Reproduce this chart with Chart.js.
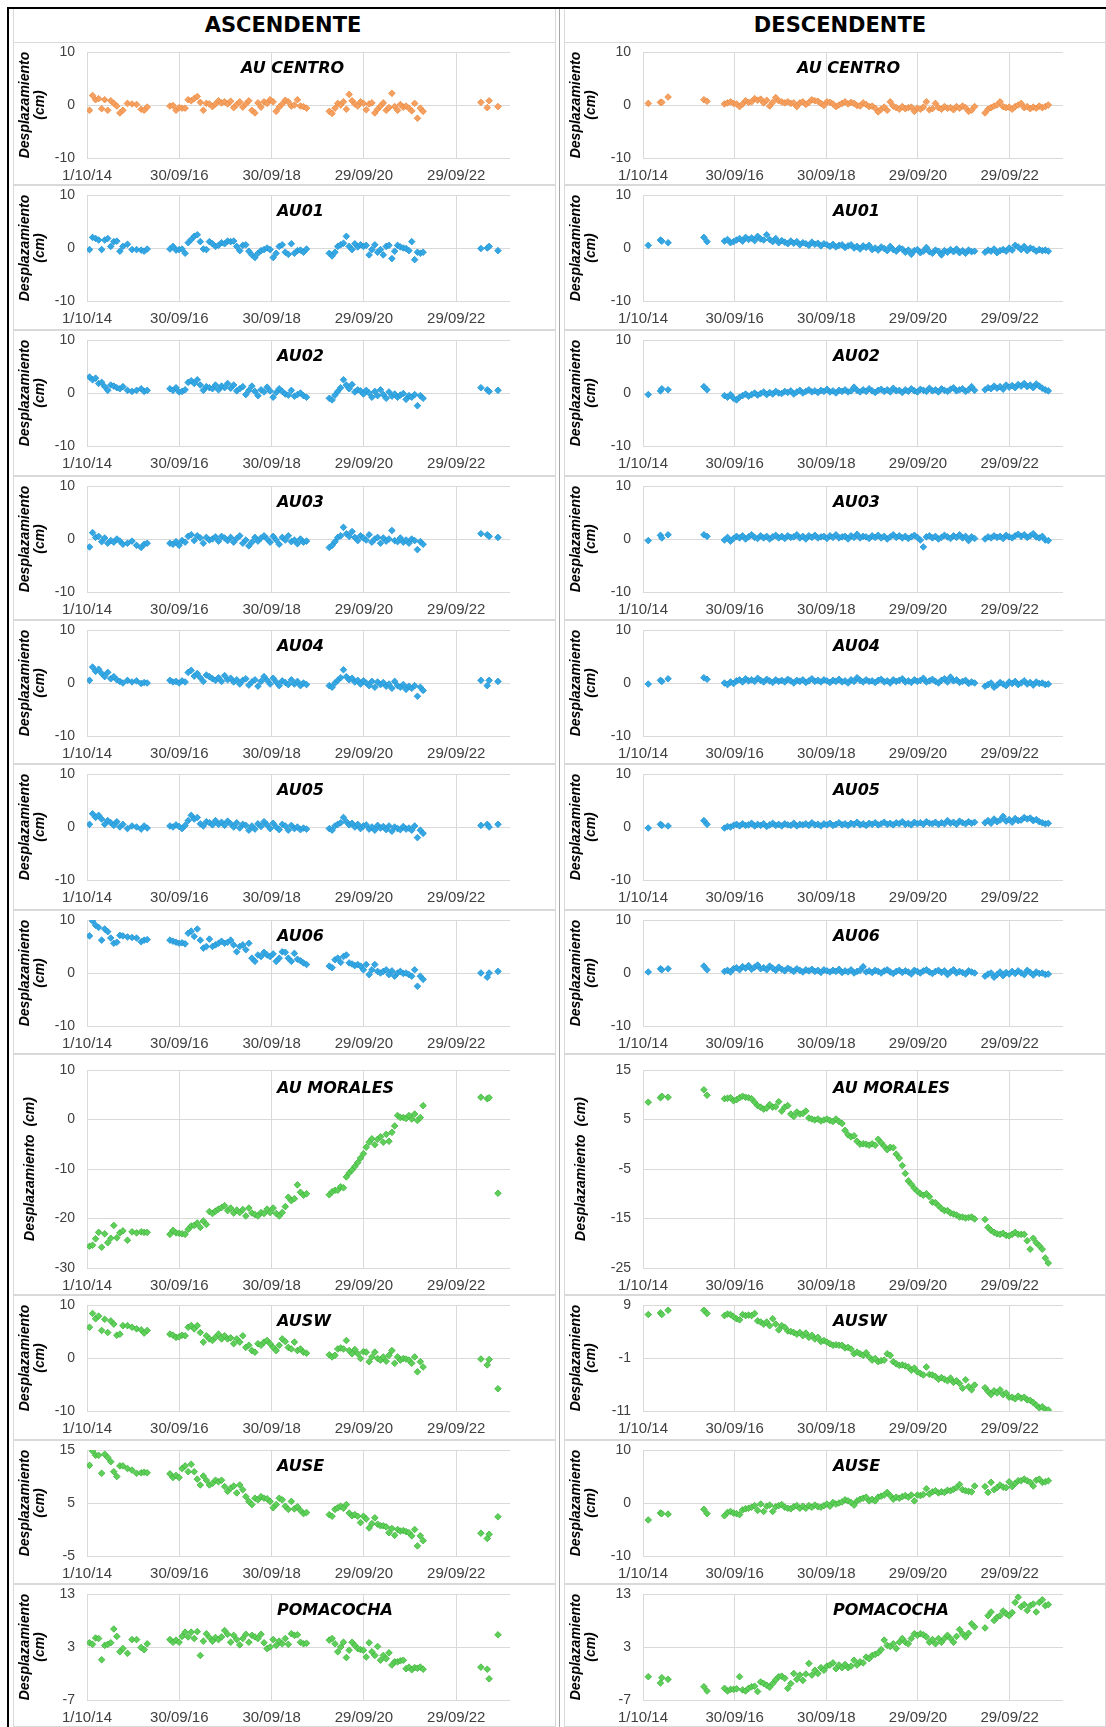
<!DOCTYPE html>
<html><head><meta charset="utf-8">
<script src="https://cdn.jsdelivr.net/npm/chart.js@4.4.1/dist/chart.umd.min.js"></script>
<style>
html,body{margin:0;padding:0;background:#fff}
body{position:relative;width:1106px;height:1727px;overflow:hidden}
.hdr{position:absolute;top:7px;height:35px;line-height:36px;text-align:center;font-family:'DejaVu Sans';font-weight:bold;font-size:21px;color:#000}
.cell{position:absolute;box-sizing:border-box;border:1px solid #d9d9d9}
.ln{position:absolute;background:#000}
canvas{position:absolute}
</style></head><body>
<div class="ln" style="left:7px;top:7px;width:1099px;height:2px"></div>
<div class="ln" style="left:7px;top:7px;width:2px;height:1720px"></div>
<div class="cell" style="left:13px;top:9px;width:543px;height:34px;border-top:none"></div>
<div class="cell" style="left:564px;top:9px;width:542px;height:34px;border-top:none"></div>
<div class="hdr" style="left:133px;width:300px">ASCENDENTE</div>
<div class="hdr" style="left:690px;width:300px">DESCENDENTE</div>
<div style="position:absolute;left:559px;top:9px;width:1px;height:1718px;background:#a6a6a6"></div>
<script>
// ---- x axis: days since 1/10/14 ----
const X_TICK_STEP = 730;
const X_MAX = 3345;
const X_TICK_LABELS = ['1/10/14','30/09/16','30/09/18','29/09/20','29/09/22'];
const Y_STEP = 10;

// acquisition dates (days since 1/10/14)
const ASC_DATES = [
 20,44,68,92,116,140,164,188,212,236,260,284,320,356,392,428,452,476,
 656,680,704,728,752,776,800,824,848,872,
 896,920,944,968,992,1016,1040,1064,1088,1112,
 1136,1160,1184,1208,1232,1256,1280,1304,1328,1352,
 1376,1400,1424,1448,1472,1496,1520,1544,1568,1592,
 1616,1640,1664,1688,1712,1736,
 1916,1938,1961,1983,2006,2028,2051,2073,2096,2118,
 2141,2163,2186,2208,2231,2253,2276,2298,2321,2343,
 2366,2388,2411,2433,2456,2478,2501,2523,2546,2568,
 2591,2613,2636,2658,
 3115,3165,3180,3250
];
const DESC_DATES = [
 42,139,150,200,485,510,
 649,673,697,721,745,769,793,817,841,865,
 889,913,937,961,985,1009,1033,1057,1081,1105,
 1129,1153,1177,1201,1225,1249,1273,1297,1321,1345,
 1369,1393,1417,1441,1465,1489,1513,1537,1561,1585,
 1609,1633,1657,1681,1705,1729,1753,1777,1801,1825,
 1849,1873,1897,1921,1945,1969,1993,2017,2041,2065,
 2089,2113,2137,2161,2185,2209,2233,2257,2281,2305,
 2329,2353,2377,2401,2425,2449,2473,2497,2521,2545,
 2569,2593,2617,2641,
 2724,2748,2772,2796,2820,2844,2868,2892,2916,2940,
 2964,2988,3012,3036,3060,3084,3108,3132,3156,3180,
 3204,3228
];

// ---- ASCENDENTE series (cm) ----
const ascAUCentro = [
 -1.0,1.8,1.0,1.2,-0.7,1.0,-1.0,0.8,0.3,-0.2,-1.5,-1.0,0.3,0.2,0.1,-0.8,-1.0,-0.4,
 -0.2,-0.1,-1.0,-0.5,-0.6,-0.6,1.0,0.8,1.2,1.6,
 0.5,-1.0,0.3,0.2,-0.3,0.2,0.8,0.4,0.6,0.2,
 0.7,-0.5,0.1,0.6,-0.4,0.2,0.8,-1.0,-1.5,0.4,
 -0.4,0.6,0.3,1.0,0.6,-1.2,-0.4,0.2,0.9,0.6,
 -0.2,0.0,1.0,-0.2,-0.3,-0.6,
 -1.2,-1.6,-0.6,0.3,0.0,0.6,-0.8,2.0,0.8,0.2,
 -0.2,0.6,0.3,-0.9,0.2,0.4,-1.5,-0.8,-0.2,0.4,
 -1.0,-0.5,2.2,-0.3,-1.0,0.1,-0.4,-0.2,-0.6,-1.1,
 0.3,-2.5,-0.6,-1.2,
 0.5,-0.5,0.8,-0.3
];
const ascAU01 = [
 -0.3,2.0,1.8,1.5,-0.3,1.5,1.8,0.3,1.2,1.3,-0.6,0.3,0.7,-0.3,-0.3,-0.4,-0.6,-0.2,
 -0.2,0.3,-0.4,-0.3,-0.2,-1.0,1.0,1.6,2.2,2.5,
 1.2,-0.2,-0.3,1.2,0.8,0.3,0.5,1.0,0.8,1.3,
 1.2,1.3,0.3,-0.5,0.5,0.6,-0.6,-1.3,-1.8,-1.0,
 -0.5,-0.3,0.0,-0.3,-1.8,-1.0,0.3,0.6,-0.8,-1.2,
 0.8,-1.0,-0.5,-0.4,-0.8,-0.2,
 -1.0,-1.5,-0.8,0.3,0.6,0.9,2.2,0.3,-0.3,0.8,
 0.2,0.6,0.3,0.5,-1.3,-0.3,0.6,-0.8,-0.3,-1.3,
 0.3,0.5,-2.0,-0.6,0.5,0.2,0.0,-0.1,-0.5,1.2,
 -2.2,-0.8,-1.0,-0.8,
 -0.1,0.0,0.3,-0.5
];
const ascAU02 = [
 3.0,2.5,2.8,1.8,2.0,1.2,0.5,1.5,1.3,1.0,0.8,1.2,0.5,0.3,0.5,0.8,0.3,0.5,
 0.8,0.5,1.0,0.2,0.3,0.6,2.0,2.3,1.8,2.5,
 1.5,0.5,1.2,1.0,0.8,1.5,0.6,1.3,1.0,1.8,
 0.9,1.5,0.4,0.8,1.2,-0.3,0.5,1.3,0.3,-0.5,
 0.6,0.2,1.1,0.4,-0.8,0.1,0.8,0.3,-0.2,-0.4,
 0.5,-0.6,-0.3,0.0,-0.5,-0.8,
 -1.0,-1.3,-0.4,0.3,1.0,2.5,1.5,0.8,1.6,0.2,
 0.6,0.4,-0.2,0.5,0.0,-0.8,0.3,-0.5,0.6,-0.3,
 -1.0,0.2,-0.6,-0.2,-0.8,-0.4,-0.1,-1.2,-0.5,-0.8,
 -0.3,-2.4,-0.5,-1.0,
 1.0,0.6,0.3,0.5
];
const ascAU03 = [
 -1.5,1.2,0.3,0.5,-0.5,0.2,-0.8,-0.3,-0.6,0.0,-0.4,-1.0,-0.8,-0.4,-1.2,-1.6,-1.0,-0.8,
 -0.8,-1.0,-0.5,-1.2,-0.3,-0.6,0.5,0.8,-0.3,0.6,
 0.2,-0.8,0.3,-0.2,0.0,0.4,-0.4,0.5,0.2,-0.3,
 0.3,-0.6,0.1,0.6,-0.8,-0.2,-1.3,-0.6,0.3,-0.4,
 0.2,0.6,0.0,-0.6,0.5,-0.2,-1.0,0.3,-0.2,0.6,
 -0.5,-0.2,-0.9,0.0,-0.6,-0.4,
 -1.6,-1.2,-0.5,0.3,0.6,2.2,1.0,0.5,1.4,0.3,
 -0.3,0.6,0.2,-0.2,0.8,-0.6,0.0,0.3,-0.8,0.2,
 -0.4,0.0,1.6,-0.3,-0.5,0.2,-0.6,-0.2,-0.8,0.0,
 -0.3,-2.0,-0.5,-1.0,
 1.0,0.8,0.5,0.3
];
const ascAU04 = [
 0.5,3.0,2.2,2.6,1.8,1.2,2.0,0.8,1.2,0.6,0.3,0.0,0.5,0.2,0.4,-0.1,0.1,0.0,
 0.5,0.2,0.3,0.0,0.4,0.2,2.0,2.4,1.3,1.8,
 1.0,0.3,1.5,1.2,0.8,0.5,1.0,0.3,1.4,0.6,
 0.9,0.2,0.6,-0.2,0.5,0.8,-0.4,0.2,0.6,-0.6,
 0.3,1.2,0.5,-0.2,0.9,0.2,-0.5,0.4,0.1,-0.3,
 0.6,-0.2,0.3,-0.5,0.0,-0.3,
 -0.5,-0.8,0.0,0.5,1.0,2.5,1.2,0.6,0.9,0.2,
 0.5,-0.2,0.4,0.0,-0.5,0.3,-0.8,0.2,-0.3,0.1,
 -0.6,-0.2,-1.0,0.3,-0.5,-0.8,-0.3,-1.2,-0.6,-1.0,
 -0.5,-2.5,-0.8,-1.4,
 0.5,-0.5,0.5,0.3
];
const ascAU05 = [
 0.5,2.5,1.8,2.2,1.5,0.5,1.2,0.8,0.3,1.0,0.0,0.5,-0.3,0.2,0.0,-0.4,0.2,-0.2,
 0.2,0.0,0.4,0.1,-0.3,0.3,1.2,2.2,1.5,1.8,
 0.6,0.2,1.0,0.8,0.4,1.2,0.5,0.9,0.3,1.1,
 0.6,0.0,0.8,-0.2,0.5,0.3,-0.6,0.2,-0.4,0.6,
 0.1,1.0,0.4,-0.3,0.7,0.0,-0.5,0.5,0.2,-0.6,
 0.3,-0.3,0.0,-0.5,-0.2,-0.4,
 -0.3,-0.6,0.2,0.5,0.8,1.8,1.0,0.4,0.7,0.0,
 0.5,-0.3,0.2,0.4,-0.4,0.0,-0.6,0.3,-0.2,0.1,
 -0.5,0.2,-0.8,0.0,-0.3,-0.5,0.1,-0.4,-0.2,-0.6,
 0.2,-2.0,-0.6,-1.2,
 0.3,0.5,0.0,0.5
];
const ascAU06 = [
 7.0,9.8,9.0,8.6,6.2,8.3,7.8,6.6,5.6,5.8,7.1,7.0,6.8,6.7,6.6,5.9,6.2,6.3,
 6.2,6.0,5.8,5.6,5.7,5.5,7.5,7.9,6.9,8.3,
 6.2,4.7,5.0,6.4,5.0,5.3,5.6,6.0,5.6,5.8,
 6.2,5.3,4.0,5.0,5.3,4.4,5.6,2.8,2.2,3.4,
 3.1,3.9,3.4,3.1,3.6,2.2,2.8,4.0,3.9,2.8,
 2.2,3.7,2.6,2.3,1.9,1.6,
 1.3,1.0,2.5,2.8,2.0,3.1,3.4,1.9,1.7,1.4,
 1.6,1.3,0.6,1.6,-0.3,0.6,1.6,0.3,0.0,0.3,
 0.6,-0.3,0.4,-0.6,0.0,0.3,-0.1,0.0,-0.3,-0.6,
 0.6,-2.5,-0.6,-1.2,
 0.0,-0.8,0.0,0.3
];
const ascAUMorales = [
 -25.6,-25.4,-24.1,-22.8,-25.8,-23.1,-24.9,-24.0,-21.4,-23.9,-22.9,-22.5,-24.4,-22.7,-22.9,-22.7,-22.8,-22.8,
 -23.2,-22.4,-22.9,-23.0,-23.1,-23.2,-22.2,-21.5,-21.4,-20.9,
 -21.8,-20.5,-21.2,-18.6,-19.0,-18.5,-18.1,-17.8,-17.4,-18.4,
 -17.9,-18.9,-18.3,-18.8,-18.2,-19.5,-17.9,-18.9,-19.2,-19.5,
 -18.8,-19.0,-18.1,-18.8,-17.9,-19.0,-19.5,-18.8,-17.6,-15.7,
 -16.4,-16.0,-13.2,-14.7,-15.3,-15.0,
 -15.2,-14.6,-14.3,-14.3,-13.6,-13.8,-11.6,-10.8,-10.2,-9.5,
 -8.7,-7.8,-6.9,-5.6,-4.6,-3.9,-5.1,-4.0,-3.5,-4.6,
 -3.0,-4.4,-2.6,-1.3,0.8,0.4,0.4,0.2,0.8,0.1,
 1.1,-0.2,0.4,2.8,
 4.5,4.2,4.4,-14.9
];
const ascAUSW = [
 5.8,8.4,7.4,7.9,5.2,7.3,4.8,7.0,6.4,4.3,4.5,6.1,6.1,5.8,5.5,5.3,4.7,5.2,
 4.5,4.3,3.9,4.0,4.3,4.2,5.8,6.1,5.5,6.1,
 4.8,3.0,4.2,3.6,3.3,3.9,4.5,3.6,4.2,3.6,
 3.8,2.7,3.6,3.0,4.2,2.0,2.4,1.4,1.1,2.7,
 2.4,3.0,3.3,2.7,2.0,1.4,2.4,3.6,3.1,2.0,
 1.7,3.0,1.4,1.7,1.1,0.9,
 0.6,0.2,0.5,1.7,1.9,1.7,3.3,1.4,0.8,1.6,
 0.8,-0.1,1.2,1.1,-0.7,0.2,1.1,-0.1,-0.4,0.2,
 -0.6,0.5,1.4,-1.0,0.2,-0.4,-0.1,-0.2,-0.4,-1.0,
 0.2,-2.6,-0.7,-1.7,
 -0.2,-1.3,-0.3,-5.8
];
const ascAUSE = [
 12.1,14.8,14.0,14.0,10.6,14.2,13.6,12.8,10.9,10.0,12.0,12.0,11.5,11.2,10.6,10.7,10.8,10.7,
 10.5,9.8,10.2,9.8,11.5,12.0,10.9,12.3,10.9,9.5,
 8.4,10.1,9.3,8.4,8.7,9.3,9.0,9.3,8.1,7.2,
 7.8,8.2,6.9,8.4,7.5,6.2,5.3,4.7,5.9,5.6,
 6.2,5.9,5.8,5.3,4.1,4.7,5.9,5.6,4.4,3.8,
 5.3,3.9,4.3,3.6,3.0,3.2,
 2.8,2.5,3.8,4.1,4.4,4.0,4.7,3.1,2.6,2.8,
 2.5,1.3,2.5,2.0,0.3,1.1,2.2,1.0,0.7,0.7,
 0.5,-0.6,0.2,-1.1,0.0,-0.3,-0.2,-0.4,-0.6,-1.2,
 0.0,-3.1,-1.2,-2.1,
 -0.7,-1.7,-0.9,2.4
];
const ascPomacocha = [
 3.8,3.5,4.7,4.6,0.6,3.3,3.5,3.8,6.4,5.0,2.1,2.7,1.8,4.4,4.4,2.9,2.5,3.6,
 4.4,3.9,4.3,3.9,5.0,5.8,4.9,5.8,4.6,5.9,
 1.4,4.1,5.5,4.8,4.1,4.8,4.4,4.9,6.1,5.4,
 3.9,5.2,4.4,3.4,4.6,5.4,3.9,5.2,4.9,4.6,
 5.4,3.8,2.7,3.0,4.4,3.3,4.1,3.6,4.6,3.5,
 5.5,5.2,5.3,3.9,3.6,3.7,
 4.3,4.6,3.6,2.1,3.0,3.9,1.0,2.4,3.9,3.3,
 2.7,2.5,2.4,1.1,3.8,2.1,1.4,3.1,0.5,1.4,
 0.8,1.9,-0.4,0.2,0.2,0.4,0.5,-1.1,-0.8,-1.3,
 -0.9,-1.0,-0.8,-1.2,
 -0.8,-1.2,-3.0,5.3
];

// ---- DESCENDENTE series (cm) ----
const descAUCentro = [
 0.3,0.5,0.5,1.5,1.0,0.7,
 0.2,0.4,0.6,0.3,0.2,-0.3,0.2,0.8,0.5,0.6,
 1.2,0.9,1.1,0.4,0.9,-0.2,0.5,1.4,0.8,0.6,
 0.4,0.6,0.3,0.4,-0.3,0.4,0.6,0.1,0.5,1.0,
 0.8,0.7,0.3,-0.1,0.6,0.5,0.2,-0.3,0.0,0.3,
 0.6,0.2,0.5,0.3,-0.1,-0.2,0.4,0.1,-0.3,-0.2,
 -0.6,-1.3,-0.8,-0.4,-1.0,0.6,-0.2,-0.5,-0.8,-0.3,
 -0.7,-0.5,-0.4,-1.2,-0.6,-0.8,-0.4,0.6,-0.9,-0.7,
 0.3,-0.5,-0.8,-0.3,-0.6,-0.5,-0.9,-0.3,-0.6,-0.2,
 -0.5,-1.2,-1.0,-0.3,
 -1.5,-0.8,-0.5,-0.2,0.0,0.6,-0.3,-0.5,-0.4,-0.8,
 -0.3,0.0,0.3,-0.5,-0.3,-0.7,-0.4,-0.6,-0.2,-0.5,
 -0.3,0.0
];
const descAU01 = [
 0.5,1.5,1.3,1.0,2.0,1.2,
 1.3,1.6,1.0,1.2,1.5,1.8,1.3,2.0,1.6,1.9,
 1.4,2.2,1.7,1.5,2.5,1.6,1.2,1.8,1.0,1.4,
 1.1,0.8,1.3,0.9,1.2,0.6,1.0,0.8,0.5,1.1,
 0.7,0.9,0.4,0.8,0.6,0.3,0.7,0.2,0.5,0.6,
 0.1,0.4,0.6,0.0,0.3,-0.2,0.4,0.1,0.5,-0.3,
 0.0,-0.4,0.2,-0.1,-0.5,0.3,-0.3,-0.6,0.0,-0.2,
 -0.8,-0.4,-1.2,-0.5,-0.3,-0.9,-0.6,0.1,-0.7,-1.0,
 -0.4,-0.6,-1.3,-0.5,-0.8,-0.3,-0.7,-0.2,-0.9,-0.5,
 -1.0,-0.4,-0.7,-0.6,
 -0.8,-0.4,-0.6,-0.2,-0.9,-0.5,-0.3,-0.6,0.0,-0.4,
 0.5,0.2,-0.3,0.3,-0.5,0.0,-0.2,-0.6,-0.3,-0.5,
 -0.4,-0.6
];
const descAU02 = [
 -0.3,0.4,0.8,0.6,1.2,0.6,
 -0.5,-0.8,-0.3,-1.0,-1.3,-0.8,-0.5,-0.2,-0.6,-0.3,
 0.0,-0.4,-0.1,0.2,-0.3,0.1,-0.2,0.3,0.0,-0.1,
 0.3,0.1,0.4,-0.2,0.2,0.5,0.0,0.3,0.6,0.2,
 0.4,0.1,0.5,0.3,0.7,0.2,0.4,0.0,0.5,0.3,
 0.6,0.2,0.4,1.1,0.5,0.2,0.6,0.3,0.8,0.4,
 0.1,0.5,0.7,0.3,0.6,0.2,0.9,0.4,0.5,0.1,
 0.6,0.3,0.8,0.4,0.2,0.7,0.5,0.3,0.9,0.4,
 0.6,0.2,0.8,0.5,0.3,0.7,1.0,0.4,0.6,0.8,
 0.3,0.6,1.2,0.5,
 0.6,1.0,0.8,1.3,0.9,1.2,0.7,1.5,1.1,1.4,
 1.0,1.6,1.3,1.8,1.2,1.5,1.0,1.7,1.3,0.9,
 0.6,0.4
];
const descAU03 = [
 -0.3,0.7,0.2,0.8,0.8,0.5,
 -0.2,0.3,-0.4,0.1,0.5,0.2,0.6,0.0,0.4,0.8,
 0.3,0.1,0.6,0.2,0.5,0.0,0.4,0.7,0.2,0.5,
 0.1,0.6,0.3,0.4,0.8,0.2,0.5,0.0,0.6,0.3,
 0.7,0.2,0.4,0.5,0.1,0.6,0.3,0.8,0.2,0.4,
 0.5,0.0,0.6,0.3,0.9,0.2,0.5,0.4,0.1,0.6,
 0.3,0.7,0.2,0.5,0.0,0.4,0.8,0.3,0.6,0.2,
 0.5,0.1,0.4,0.7,0.3,-0.2,-1.5,0.4,0.6,0.2,
 0.5,0.0,0.3,0.7,0.4,0.1,0.6,0.3,0.8,0.2,
 0.5,-0.3,0.4,0.1,
 0.0,0.4,0.2,0.6,0.3,0.5,0.1,0.7,0.4,0.2,
 0.6,0.9,0.5,0.8,0.3,0.6,1.0,0.4,0.2,0.5,
 -0.2,-0.3
];
const descAU04 = [
 -0.2,0.5,0.3,0.8,1.0,0.7,
 0.0,-0.3,0.2,-0.1,0.4,0.6,0.2,0.8,0.4,0.6,
 0.3,0.9,0.5,0.2,0.7,0.4,0.1,0.6,0.3,0.5,
 0.2,0.7,0.4,0.0,0.5,0.3,0.6,0.1,0.4,0.8,
 0.3,0.5,0.2,0.6,0.4,0.1,0.5,0.3,0.7,0.2,
 0.4,0.0,0.6,0.3,1.0,0.5,0.2,0.6,0.3,0.4,
 0.1,0.5,0.7,0.2,0.4,0.0,0.6,0.3,0.5,0.8,
 0.2,0.4,0.1,0.6,0.3,0.5,0.9,0.2,0.4,0.7,
 0.3,0.0,0.5,0.8,0.2,1.1,0.4,0.6,0.1,0.3,
 0.5,-0.1,0.2,0.0,
 -0.6,-0.3,0.0,-0.8,-0.4,0.1,-0.2,-0.5,0.2,-0.1,
 0.3,-0.3,0.0,0.4,-0.2,0.1,-0.4,0.2,-0.1,0.0,
 -0.3,-0.2
];
const descAU05 = [
 -0.2,0.5,0.3,0.2,1.2,0.5,
 -0.2,0.1,0.0,0.3,0.5,0.2,0.6,0.3,0.4,0.7,
 0.2,0.5,0.3,0.6,0.1,0.4,0.7,0.3,0.5,0.2,
 0.6,0.4,0.3,0.7,0.2,0.5,0.4,0.6,0.3,0.8,
 0.4,0.5,0.2,0.6,0.4,0.7,0.3,0.5,0.8,0.4,
 0.6,0.3,0.7,0.5,0.9,0.4,0.6,0.3,0.7,0.5,
 0.8,0.4,0.6,0.9,0.5,0.7,0.4,0.8,0.6,1.0,
 0.5,0.7,0.4,0.9,0.6,0.8,0.5,1.0,0.7,0.6,
 0.9,0.5,0.8,0.6,1.2,0.7,0.9,0.5,1.1,0.8,
 0.6,1.0,0.7,0.9,
 0.8,1.2,0.7,1.5,1.0,1.3,2.0,1.1,1.4,0.9,
 1.6,1.2,1.3,1.8,1.5,1.7,1.2,1.4,1.0,0.8,
 0.6,0.7
];
const descAU06 = [
 0.2,0.8,0.6,0.8,1.3,0.6,
 0.3,0.5,0.2,0.8,1.0,0.6,1.2,0.9,1.4,0.7,
 1.1,1.5,0.8,1.0,0.6,1.3,0.9,0.5,1.1,0.7,
 0.4,0.9,0.6,0.3,0.8,0.5,0.2,0.6,0.4,0.7,
 0.3,0.5,0.1,0.6,0.4,0.2,0.5,0.3,0.7,0.1,
 0.4,0.2,0.6,0.0,0.3,0.5,1.2,0.2,0.4,0.1,
 0.5,0.3,0.0,0.4,0.6,0.2,-0.1,0.3,0.5,0.1,
 0.4,0.2,-0.2,0.5,0.3,0.0,0.4,0.6,0.2,-0.1,
 0.3,0.5,0.1,0.4,-0.3,0.2,0.6,0.0,0.3,0.1,
 -0.2,0.4,0.2,0.0,
 -0.6,-0.2,0.0,-0.8,-0.3,0.2,-0.5,0.1,-0.2,0.3,
 -0.1,0.4,0.0,-0.3,0.5,0.1,-0.4,0.2,-0.1,0.0,
 -0.3,-0.2
];
const descAUMorales = [
 8.5,9.4,9.7,9.5,11.0,9.9,
 9.2,9.3,9.4,8.8,9.0,9.4,9.7,9.5,9.4,9.2,
 8.5,7.8,7.5,7.1,7.3,8.0,7.5,7.6,8.6,6.7,
 7.5,7.8,6.1,5.6,6.5,6.1,6.2,6.7,5.3,5.1,
 4.9,5.1,4.7,4.9,5.1,4.8,4.6,5.1,4.6,4.2,
 2.8,1.9,1.5,1.7,0.6,0.0,0.1,0.0,-0.2,0.1,
 -0.2,1.0,0.3,-0.4,-1.1,-0.6,-0.7,-2.0,-2.8,-4.3,
 -5.9,-7.4,-8.1,-8.9,-9.5,-10.0,-10.3,-10.0,-10.6,-11.7,
 -11.8,-12.4,-13.0,-13.4,-13.4,-13.9,-14.1,-14.3,-14.7,-14.7,
 -14.9,-14.8,-14.7,-15.1,
 -15.2,-16.8,-17.4,-17.8,-18.1,-18.2,-18.0,-18.4,-18.5,-18.2,
 -17.8,-18.2,-18.2,-18.2,-19.5,-21.2,-19.0,-19.9,-20.5,-21.2,
 -23.0,-24.0
];
const descAUSW = [
 7.2,7.5,7.2,8.0,8.0,7.4,
 7.0,7.3,7.2,6.8,6.4,6.2,7.2,7.0,7.1,7.0,
 7.4,6.0,5.8,5.4,5.8,5.1,6.4,5.4,4.3,5.1,
 4.8,4.1,4.0,3.8,3.5,3.8,3.2,3.7,2.9,3.3,
 2.6,2.9,2.1,2.3,2.0,1.7,1.4,1.5,1.4,1.4,
 0.9,1.0,0.7,-0.2,0.1,-0.2,-0.5,0.0,-0.8,-1.4,
 -1.1,-1.7,-1.5,-1.4,-0.2,-0.5,-1.7,-2.1,-2.4,-2.3,
 -2.5,-2.7,-3.3,-2.9,-3.6,-3.9,-4.2,-2.7,-4.1,-4.2,
 -4.5,-5.0,-4.7,-5.0,-5.3,-4.8,-5.6,-5.3,-5.8,-6.7,
 -5.1,-6.4,-7.0,-6.1,
 -6.6,-7.3,-7.9,-7.2,-7.6,-7.0,-7.9,-7.6,-8.4,-8.4,
 -8.7,-8.2,-8.6,-8.4,-8.9,-9.0,-9.4,-9.9,-10.4,-10.2,
 -10.7,-10.8
];
const descAUSE = [
 -3.2,-1.9,-2.0,-2.1,-1.2,-2.0,
 -2.4,-1.8,-1.6,-1.9,-2.0,-2.2,-1.3,-1.1,-1.0,-0.8,
 -0.5,-1.4,-0.2,-1.6,-0.6,-0.4,-1.6,-0.7,-0.5,-0.3,
 -0.8,-1.0,-1.1,-0.7,-0.5,-1.0,-0.6,-1.0,-0.5,-0.8,
 -0.4,-0.7,-0.8,-0.5,-0.2,-0.6,0.1,-0.2,0.0,0.2,
 0.6,0.4,0.1,-0.4,0.4,0.7,0.9,1.1,0.4,0.7,
 0.4,1.1,1.3,1.5,2.0,1.4,0.7,1.1,0.9,1.2,
 1.4,1.1,1.5,0.4,1.5,1.4,1.6,2.7,1.7,2.1,
 2.3,1.9,2.1,2.0,2.4,2.3,2.6,2.9,3.5,2.5,
 2.3,2.2,2.1,3.2,
 3.1,2.0,3.9,2.5,2.9,3.4,3.0,2.9,4.0,3.1,
 3.7,4.2,4.2,4.5,4.2,3.9,3.2,4.3,4.5,3.9,
 4.0,4.2
];
const descPomacocha = [
 -2.6,-3.8,-2.8,-3.1,-4.5,-5.3,
 -4.8,-5.3,-5.0,-5.0,-4.9,-2.6,-5.1,-5.3,-4.8,-4.5,
 -4.4,-5.4,-3.6,-3.9,-4.2,-4.6,-3.9,-3.2,-2.6,-2.5,
 -2.9,-4.8,-3.9,-2.0,-3.1,-2.3,-3.3,-2.1,-0.1,-2.3,
 -1.4,-2.0,-0.9,-1.4,-0.6,-0.4,0.0,-1.1,-0.4,-0.9,
 -0.3,-0.9,-0.6,0.5,-0.4,0.2,0.0,1.1,0.8,1.4,
 1.6,1.9,2.5,4.3,3.3,3.1,3.6,2.7,3.9,4.6,
 3.9,3.6,4.6,5.5,5.2,5.5,5.3,4.9,3.9,4.4,
 3.6,4.6,3.9,4.6,5.2,4.6,3.9,5.0,6.3,5.5,
 4.9,5.6,7.4,6.8,
 6.6,8.9,9.6,8.0,8.6,8.9,9.8,9.3,8.9,9.5,
 11.4,12.4,10.6,11.0,9.9,10.8,11.1,9.6,11.4,11.9,
 10.8,11.0
];

// ---- panel list: row, column, title, series, y range, colour ----
const PANELS = [
 {row:0,col:0,name:'AU CENTRO',dates:ASC_DATES,vals:ascAUCentro,ymin:-10,ymax:10,c:'orange'},
 {row:1,col:0,name:'AU01',dates:ASC_DATES,vals:ascAU01,ymin:-10,ymax:10,c:'blue'},
 {row:2,col:0,name:'AU02',dates:ASC_DATES,vals:ascAU02,ymin:-10,ymax:10,c:'blue'},
 {row:3,col:0,name:'AU03',dates:ASC_DATES,vals:ascAU03,ymin:-10,ymax:10,c:'blue'},
 {row:4,col:0,name:'AU04',dates:ASC_DATES,vals:ascAU04,ymin:-10,ymax:10,c:'blue'},
 {row:5,col:0,name:'AU05',dates:ASC_DATES,vals:ascAU05,ymin:-10,ymax:10,c:'blue'},
 {row:6,col:0,name:'AU06',dates:ASC_DATES,vals:ascAU06,ymin:-10,ymax:10,c:'blue'},
 {row:7,col:0,name:'AU MORALES',dates:ASC_DATES,vals:ascAUMorales,ymin:-30,ymax:10,c:'green'},
 {row:8,col:0,name:'AUSW',dates:ASC_DATES,vals:ascAUSW,ymin:-10,ymax:10,c:'green'},
 {row:9,col:0,name:'AUSE',dates:ASC_DATES,vals:ascAUSE,ymin:-5,ymax:15,c:'green'},
 {row:10,col:0,name:'POMACOCHA',dates:ASC_DATES,vals:ascPomacocha,ymin:-7,ymax:13,c:'green'},
 {row:0,col:1,name:'AU CENTRO',dates:DESC_DATES,vals:descAUCentro,ymin:-10,ymax:10,c:'orange'},
 {row:1,col:1,name:'AU01',dates:DESC_DATES,vals:descAU01,ymin:-10,ymax:10,c:'blue'},
 {row:2,col:1,name:'AU02',dates:DESC_DATES,vals:descAU02,ymin:-10,ymax:10,c:'blue'},
 {row:3,col:1,name:'AU03',dates:DESC_DATES,vals:descAU03,ymin:-10,ymax:10,c:'blue'},
 {row:4,col:1,name:'AU04',dates:DESC_DATES,vals:descAU04,ymin:-10,ymax:10,c:'blue'},
 {row:5,col:1,name:'AU05',dates:DESC_DATES,vals:descAU05,ymin:-10,ymax:10,c:'blue'},
 {row:6,col:1,name:'AU06',dates:DESC_DATES,vals:descAU06,ymin:-10,ymax:10,c:'blue'},
 {row:7,col:1,name:'AU MORALES',dates:DESC_DATES,vals:descAUMorales,ymin:-25,ymax:15,c:'green'},
 {row:8,col:1,name:'AUSW',dates:DESC_DATES,vals:descAUSW,ymin:-11,ymax:9,c:'green'},
 {row:9,col:1,name:'AUSE',dates:DESC_DATES,vals:descAUSE,ymin:-10,ymax:10,c:'green'},
 {row:10,col:1,name:'POMACOCHA',dates:DESC_DATES,vals:descPomacocha,ymin:-7,ymax:13,c:'green'}
];

// ---- styling / layout (not data) ----
const COLORS = {
 orange:{fill:'#F4A060',edge:'#EE8A40'},
 blue:{fill:'#35A7E3',edge:'#1F95D6'},
 green:{fill:'#5ED05A',edge:'#3DB43A'}
};
const ROW_TOPS = [42,185,330,476,620,764,910,1054,1295,1440,1584,1727];
const COLS = [{x:13,w:543,plotL:87,plotR:510},{x:564,w:542,plotL:643,plotR:1063}];

const panelTitle = {
 id:'panelTitle',
 afterDatasetsDraw(chart, args, o){
  const {ctx, chartArea:a} = chart;
  ctx.save();
  ctx.font = 'italic bold 16px "DejaVu Sans"';
  ctx.fillStyle = '#000';
  ctx.textAlign = 'left';
  ctx.textBaseline = 'middle';
  ctx.fillText(o.text, a.left + o.dx, a.top + o.dy);
  ctx.restore();
 }
};

function build(p){
 const col = COLS[p.col];
 const top = ROW_TOPS[p.row], h = ROW_TOPS[p.row+1] - top;
 const big = p.row === 7;
 const plotTop = big ? 16 : 10, plotBot = big ? 214 : 116;
 const cell = document.createElement('div');
 cell.className = 'cell';
 Object.assign(cell.style,{left:col.x+'px',top:top+'px',width:col.w+'px',height:h+'px'});
 document.body.appendChild(cell);
 const cv = document.createElement('canvas');
 cv.width = col.w; cv.height = h;
 Object.assign(cv.style,{left:col.x+'px',top:top+'px',width:col.w+'px',height:h+'px'});
 document.body.appendChild(cv);
 const clr = COLORS[p.c];
 const pts = p.dates.map((d,i)=>({x:d,y:p.vals[i]}));
 const tickFontX = {family:'Liberation Sans',size:15};
 const tickFontY = {family:'Liberation Sans',size:14};
 new Chart(cv,{
  type:'scatter',
  data:{datasets:[{data:pts,pointStyle:'rectRot',pointRadius:3.3,pointHoverRadius:3.3,
    backgroundColor:clr.fill,borderColor:clr.edge,borderWidth:0.8}]},
  options:{
   responsive:false,animation:false,events:[],devicePixelRatio:1,
   layout:{autoPadding:false,padding:{left:0,right:col.x+col.w-col.plotR,top:plotTop,bottom:0}},
   plugins:{legend:{display:false},tooltip:{enabled:false},
     panelTitle:{text:p.name,dx:p.row===0?154:190,dy:big?19:17}},
   scales:{
    x:{type:'linear',min:0,max:X_MAX,
      grid:{color:'#d9d9d9',drawTicks:false,lineWidth:1},
      border:{display:false},
      ticks:{stepSize:X_TICK_STEP,includeBounds:false,autoSkip:false,maxRotation:0,minRotation:0,
        padding:9,color:'#404040',font:tickFontX,
        callback:(v)=>{const i=Math.round(v/X_TICK_STEP);return X_TICK_LABELS[i]||'';}},
      afterBuildTicks:(s)=>{s.ticks=X_TICK_LABELS.map((_,i)=>({value:i*X_TICK_STEP}));},
      afterFit:(s)=>{s.height=h-plotBot;s.paddingLeft=0;s.paddingRight=0;}
    },
    y:{min:p.ymin,max:p.ymax,
      grid:{color:'#d9d9d9',drawTicks:false,lineWidth:1},
      border:{display:false},
      ticks:{stepSize:Y_STEP,padding:12,color:'#404040',font:tickFontY},
      title:{display:true,text:big?'Desplazamiento  (cm)':['Desplazamiento','(cm)'],color:'#000',
        font:{family:'Liberation Sans',size:14,weight:'bold',style:'italic',lineHeight:1.05},
        padding:{top:big?10:5,bottom:0}},
      afterFit:(s)=>{s.width=col.plotL-col.x;s.paddingTop=0;s.paddingBottom=0;}
    }
   }
  },
  plugins:[panelTitle]
 });
}
PANELS.forEach(build);
</script>
</body></html>
